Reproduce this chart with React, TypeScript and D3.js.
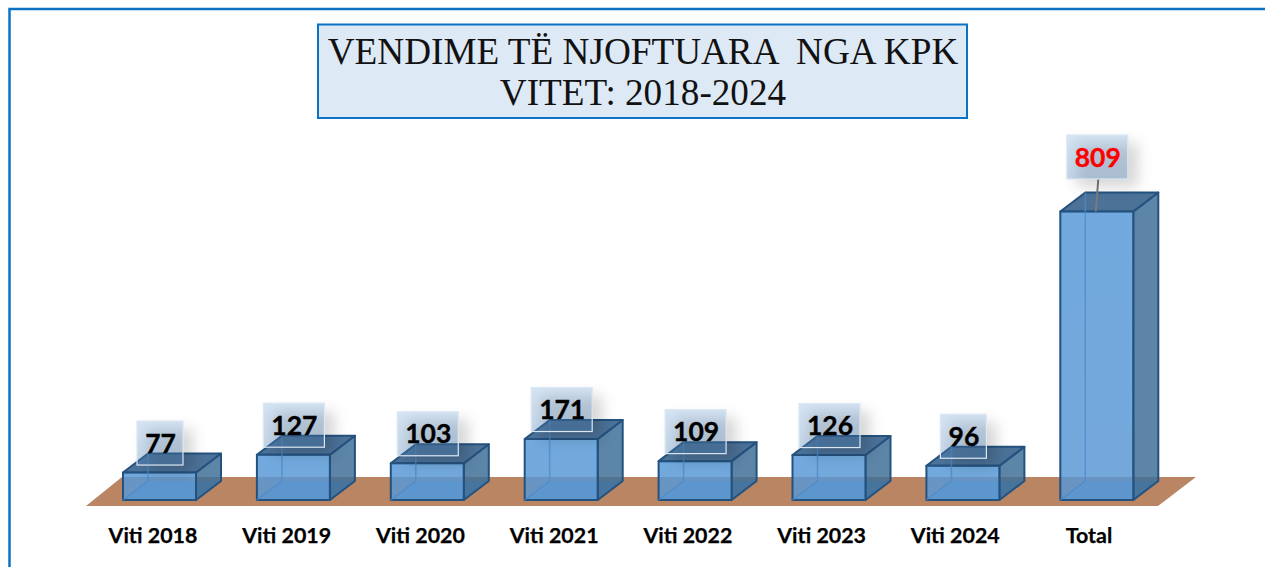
import React from "react";
import * as d3 from "d3";

const categories = ["Viti 2018", "Viti 2019", "Viti 2020", "Viti 2021", "Viti 2022", "Viti 2023", "Viti 2024", "Total"];
const values = [77, 127, 103, 171, 109, 126, 96, 809];
const titleLines = ["VENDIME TË NJOFTUARA  NGA KPK", "VITET: 2018-2024"];

const W = 1265, H = 567;
const base = 500, dx = 25, dy = -19;
const step = 133.9;
const x = d3.scaleBand<string>().domain(categories).range([123, 123 + step * 8 - (step - 73)]).paddingInner((step - 73) / step).paddingOuter(0);
const xLabel = d3.scalePoint<string>().domain(categories).range([153, 1089]);
const y = d3.scaleLinear().domain([0, 809]).range([base, 211.5]);
const poly = (pts: number[][]) => (d3.line()(pts as [number, number][]) as string) + "Z";
const edge = "#24527f";
const inner = "#4c89c7";

export default function App() {
  const bw = x.bandwidth();
  return (
    <svg width={W} height={H} viewBox={`0 0 ${W} ${H}`} style={{ position: "absolute", left: 0, top: 0, display: "block", background: "#fff" }}>
      <defs>
        <linearGradient id="front" x1="0" x2="0" y1="0" y2="1">
          <stop offset="0" stopColor="#5699d8" />
          <stop offset="1" stopColor="#5a97d4" />
        </linearGradient>
        <linearGradient id="lab" x1="0" x2="0" y1="0" y2="1">
          <stop offset="0" stopColor="#6ba0d6" stopOpacity="0.28" />
          <stop offset="1" stopColor="#4f86bd" stopOpacity="0.34" />
        </linearGradient>
        <filter id="sh" x="-60%" y="-60%" width="220%" height="220%">
          <feGaussianBlur stdDeviation="7" />
        </filter>
      </defs>
      <rect x={9.5} y={9} width={W + 20} height={H + 20} fill="none" stroke="#0b72c4" strokeWidth={2.5} />
      <rect x={318} y={24.5} width={649} height={93.5} fill="#dee9f6" stroke="#0b72c4" strokeWidth={2} />
      {titleLines.map((t, i) => (
        <text key={t} x={643} y={64 + i * 41} textAnchor="middle" xmlSpace="preserve" style={{ whiteSpace: "pre" }}
          fontFamily="'Liberation Serif'" fontSize={37.2} fill="#111">{t}</text>
      ))}
      <path d={poly([[86, 506], [122, 477], [1196, 477], [1158, 506]])} fill="#b98562" />
      {categories.map((c, i) => {
        const x0 = x(c) as number, x1 = x0 + bw, t = y(values[i]);
        return (
          <g key={c} strokeLinejoin="round">
            <path d={poly([[x0, base], [x1, base], [x1 + dx, base + dy], [x0 + dx, base + dy]])} fill="#5b8fc4" fillOpacity={0.75} />
            <path d={poly([[x1, base], [x1 + dx, base + dy], [x1 + dx, t + dy], [x1, t]])} fill="#3f7099" fillOpacity={0.85} stroke={edge} strokeWidth={2} />
            <path d={poly([[x0, t], [x1, t], [x1 + dx, t + dy], [x0 + dx, t + dy]])} fill="#426a92" fillOpacity={0.95} stroke={edge} strokeWidth={2} />
            <rect x={x0} y={t} width={bw} height={base - t} fill="url(#front)" fillOpacity={0.84} stroke={edge} strokeWidth={2} />
            <path d={`M${x0},${base}L${x0 + dx},${base + dy}V${t + dy}`} stroke={inner} strokeOpacity={0.75} strokeWidth={1.5} fill="none" />
          </g>
        );
      })}
      {categories.map((c, i) => {
        const cx = (x(c) as number) + bw / 2 + 0.5, t = y(values[i]);
        const big = i === categories.length - 1;
        const cy = big ? t - 54.5 : t - 29.5;
        const w = String(values[i]).length === 2 ? 46 : 61;
        return (
          <g key={c + "l"}>
            {big && <line x1={cx + 1} y1={cy + 22} x2={cx - 1.5} y2={t} stroke="#7a7a7a" strokeWidth={2} />}
            <rect x={cx - w / 2 + 10} y={cy - 22 + 8} width={w} height={44} fill="#000" fillOpacity={0.16} filter="url(#sh)" />
            <rect x={cx - w / 2} y={cy - 22} width={w} height={44} fill="url(#lab)" stroke="#dbe7f3" strokeWidth={1.2} />
            <text x={cx + 0.5} y={cy + 9.5} textAnchor="middle" fontFamily="Lato" fontWeight={700} fontSize={26.5} stroke={big ? "#ff0000" : "#000"} strokeWidth={0.35} fill={big ? "#ff0000" : "#000"}>{values[i]}</text>
          </g>
        );
      })}
      {categories.map((c) => (
        <text key={c + "a"} x={xLabel(c)} y={543} textAnchor="middle" fontFamily="Lato" fontWeight={700} fontSize={21.4} stroke="#000" strokeWidth={0.25} fill="#000">{c}</text>
      ))}
    </svg>
  );
}
